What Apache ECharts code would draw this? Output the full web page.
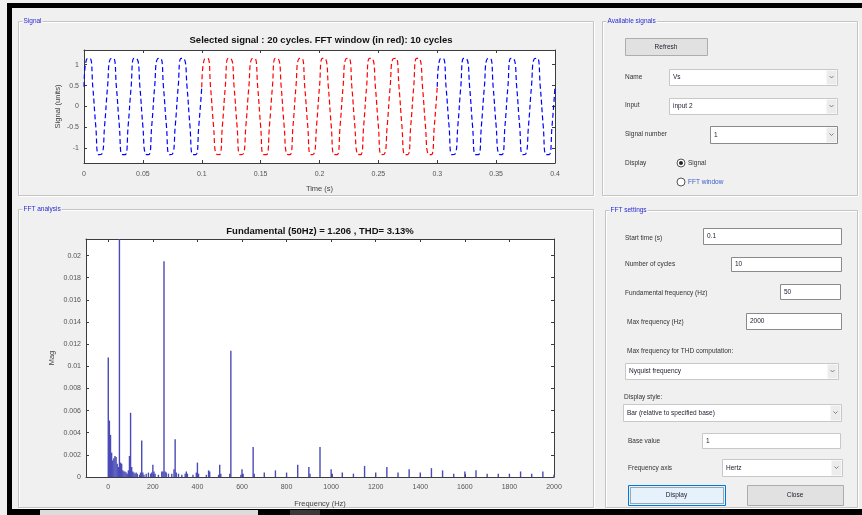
<!DOCTYPE html>
<html>
<head>
<meta charset="utf-8">
<script src="https://cdn.jsdelivr.net/npm/echarts@6/dist/echarts.min.js"></script>
<style>
html,body{margin:0;padding:0;background:#fff;}
#chart{width:862px;height:515px;}
</style>
</head>
<body>
<div id="chart"></div>
<script>
// ---------------- DATA ----------------
const signalTitle = 'Selected signal : 20 cycles. FFT window (in red): 10 cycles';
const fftTitle = 'Fundamental (50Hz) = 1.206 , THD= 3.13%';
const signalStep = 0.0025;              // s between samples
const fftWindowStart = 0.1;             // s
const fftWindowEnd = 0.3;               // s
const signalValues = [
  0.47, 1.14, 1.15, 0.46, -0.47, -1.15, -1.14, -0.46,
  0.47, 1.14, 1.15, 0.47, -0.46, -1.15, -1.15, -0.46,
  0.46, 1.15, 1.14, 0.46, -0.47, -1.14, -1.15, -0.47,
  0.47, 1.14, 1.15, 0.46, -0.46, -1.15, -1.14, -0.46,
  0.47, 1.15, 1.14, 0.47, -0.47, -1.15, -1.15, -0.46,
  0.46, 1.14, 1.15, 0.46, -0.46, -1.14, -1.15, -0.47,
  0.47, 1.15, 1.14, 0.46, -0.47, -1.15, -1.14, -0.46,
  0.47, 1.14, 1.15, 0.47, -0.46, -1.15, -1.15, -0.46,
  0.46, 1.15, 1.14, 0.46, -0.47, -1.14, -1.15, -0.47,
  0.47, 1.14, 1.15, 0.46, -0.46, -1.15, -1.14, -0.46,
  0.47, 1.15, 1.14, 0.47, -0.47, -1.15, -1.15, -0.46,
  0.46, 1.14, 1.15, 0.46, -0.46, -1.14, -1.15, -0.47,
  0.47, 1.15, 1.14, 0.46, -0.47, -1.15, -1.14, -0.46,
  0.47, 1.14, 1.15, 0.47, -0.46, -1.15, -1.15, -0.46,
  0.46, 1.15, 1.14, 0.46, -0.47, -1.14, -1.15, -0.47,
  0.47, 1.14, 1.15, 0.46, -0.46, -1.15, -1.14, -0.46,
  0.47, 1.15, 1.14, 0.47, -0.47, -1.15, -1.15, -0.46,
  0.46, 1.14, 1.15, 0.46, -0.46, -1.14, -1.15, -0.47,
  0.47, 1.15, 1.14, 0.46, -0.47, -1.15, -1.14, -0.46,
  0.47, 1.14, 1.15, 0.47, -0.46, -1.15, -1.15, -0.46,
  0.47
];
const signalXTicks = [0, 0.05, 0.1, 0.15, 0.2, 0.25, 0.3, 0.35, 0.4];
const signalYTicks = [-1, -0.5, 0, 0.5, 1];

const fftFreq = [
  0, 5, 10, 15, 20, 25, 30, 35, 40, 45, 50, 55, 60, 65, 70, 75, 80, 85, 90, 95,
  100, 105, 110, 115, 120, 125, 130, 140, 145, 150, 155, 160, 170, 180, 190, 195,
  200, 205, 210, 225, 240, 245, 250, 255, 260, 270, 285, 295, 300, 305, 315, 330,
  345, 350, 355, 380, 395, 400, 405, 440, 450, 455, 495, 500, 505, 545, 550, 595,
  600, 605, 650, 655, 700, 750, 800, 850, 900, 905, 950, 1000, 1005, 1050, 1100,
  1150, 1200, 1250, 1300, 1350, 1400, 1450, 1500, 1550, 1600, 1650, 1700, 1750,
  1800, 1850, 1900, 1950, 2000
];
const fftMag = [
  0.0108, 0.0051, 0.0038, 0.0022, 0.0015, 0.0017, 0.0019, 0.0018, 0.0012, 0.0009, 1.206, 0.0013, 0.0012, 0.0006, 0.0005, 0.0005, 0.0004, 0.0003, 0.0006, 0.0019,
  0.0058, 0.0009, 0.0005, 0.0004, 0.0003, 0.0004, 0.0003, 0.0002, 0.0004, 0.0033, 0.0004, 0.0002, 0.0003, 0.0004, 0.0003, 0.0004,
  0.0011, 0.0005, 0.0003, 0.0002, 0.0005, 0.0005, 0.0195, 0.0005, 0.0004, 0.0003, 0.0003, 0.0007, 0.0034, 0.0004, 0.0003, 0.0002,
  0.0003, 0.0005, 0.0003, 0.0002, 0.0004, 0.0013, 0.0003, 0.0002, 0.0006, 0.0005, 0.0002, 0.0011, 0.0003, 0.0003, 0.0114, 0.0002,
  0.0007, 0.0003, 0.0027, 0.0003, 0.0004, 0.0006, 0.0004, 0.0011, 0.0009, 0.0003, 0.0027, 0.0007, 0.0003, 0.0004, 0.0003,
  0.0010, 0.0004, 0.0009, 0.0004, 0.0007, 0.0004, 0.0008, 0.0006, 0.0003, 0.0005, 0.0006, 0.0003, 0.0003,
  0.0003, 0.0005, 0.0003, 0.0005, 0.0002
];
const fftXTicks = [0, 200, 400, 600, 800, 1000, 1200, 1400, 1600, 1800, 2000];
const fftYTicks = [0, 0.002, 0.004, 0.006, 0.008, 0.01, 0.012, 0.014, 0.016, 0.018, 0.02];

// ---------------- BUILD ----------------
const FONT = "'Liberation Sans', Arial, sans-serif";
const blue1 = [], red = [], blue2 = [];
signalValues.forEach((v, i) => {
  const t = +(i * signalStep).toFixed(4);
  if (t <= fftWindowStart) blue1.push([t, v]);
  if (t >= fftWindowStart && t <= fftWindowEnd) red.push([t, v]);
  if (t >= fftWindowEnd) blue2.push([t, v]);
});
const fftData = fftFreq.map((f, i) => [f, fftMag[i]]);

const G = [];
function rect(x, y, w, h, fill, stroke, lw, extra) {
  G.push(Object.assign({type: 'rect', shape: {x, y, width: w, height: h},
    style: {fill: fill || 'none', stroke: stroke || null, lineWidth: lw || 1}, silent: true}, extra || {}));
}
function txt(x, y, s, o) {
  o = o || {};
  G.push({type: 'text', x, y, silent: true, style: {
    text: s, fill: o.fill || '#333', fontSize: o.size || 6.5, fontFamily: FONT,
    fontWeight: o.weight || 'normal', align: o.align || 'left', verticalAlign: 'middle',
    backgroundColor: o.bg || null, padding: o.pad || 0}});
}
function panel(x, y, w, h, title) {
  rect(x + 1, y + 1, w, h, null, '#ffffff', 1);
  rect(x, y, w, h, null, '#c4c4c4', 1);
  txt(x + 4, y, title, {fill: '#2a2ad0', bg: '#f0f0f0', pad: [0, 1]});
}
function edit(x, y, w, h, s, dark) {
  rect(x + 0.5, y + 0.5, w, h, '#ffffff', dark ? '#8a8a8a' : '#c8c8c8', 1);
  txt(x + 4, y + h / 2 + 0.5, s, {fill: '#223'});
}
function drop(x, y, w, h, s, dark) {
  edit(x, y, w, h, s, dark);
  rect(x + w - 10.5, y + 1.5, 10, h - 2, '#ececec', null, 0);
  G.push({type: 'polyline', silent: true, shape: {points: [[x + w - 7.5, y + h / 2 - 1], [x + w - 5.5, y + h / 2 + 1], [x + w - 3.5, y + h / 2 - 1]]},
    style: {stroke: '#666', lineWidth: 0.8, fill: 'none'}});
}
function button(x, y, w, h, s, focus) {
  if (focus) {
    rect(x + 0.5, y + 0.5, w, h, '#e5f1fb', '#0078d7', 1);
    rect(x + 2.5, y + 2.5, w - 4, h - 4, null, '#333', 0.8, {style: {fill: 'none', stroke: '#333', lineWidth: 0.8, lineDash: [1, 1]}});
  } else {
    rect(x + 0.5, y + 0.5, w, h, '#e1e1e1', '#adadad', 1);
  }
  txt(x + w / 2, y + h / 2 + 0.5, s, {align: 'center', fill: '#223'});
}
function radio(x, y, checked, s) {
  G.push({type: 'circle', silent: true, shape: {cx: x, cy: y, r: 4}, style: {fill: '#fff', stroke: '#555', lineWidth: 1}});
  if (checked) G.push({type: 'circle', silent: true, shape: {cx: x, cy: y, r: 2}, style: {fill: '#222'}});
  txt(x + 7, y, s, {fill: checked ? '#333' : '#3a5cc8'});
}

// window frame
rect(7, 3, 855, 5, '#000');
rect(7, 3, 5, 512, '#000');
rect(7, 509, 855, 6, '#000');
rect(40, 510, 218, 5, '#dcdcdc');
rect(290, 510, 30, 5, '#3a3a3a');

// panels
panel(18.5, 21.5, 575, 174, 'Signal');
panel(602.5, 21.5, 255, 174, 'Available signals');
panel(18.5, 209.5, 575, 298, 'FFT analysis');
panel(605.5, 210.5, 252, 297, 'FFT settings');

// available signals widgets
button(625, 38, 82, 17, 'Refresh');
txt(625, 77, 'Name'); drop(669, 69, 168, 16, 'Vs');
txt(625, 105, 'Input'); drop(669, 98, 168, 16, 'input 2');
txt(625, 134, 'Signal number'); drop(710, 126, 127, 17, '1', true);
txt(625, 163, 'Display'); radio(681, 163, true, 'Signal'); radio(681, 182, false, 'FFT window');

// FFT settings widgets
txt(625, 238, 'Start time (s)'); edit(703, 228, 138, 16, '0.1', true);
txt(625, 264, 'Number of cycles'); edit(731, 257, 110, 14, '10', true);
txt(625, 293, 'Fundamental frequency (Hz)'); edit(780, 284, 60, 15, '50', true);
txt(627, 322, 'Max frequency (Hz)'); edit(746, 313, 95, 16, '2000', true);
txt(627, 351, 'Max frequency for THD computation:'); drop(625, 363, 213, 16, 'Nyquist frequency');
txt(624, 397, 'Display style:'); drop(623, 404, 218, 17, 'Bar (relative to specified base)');
txt(628, 441, 'Base value'); edit(702, 433, 138, 15, '1');
txt(628, 468, 'Frequency axis'); drop(722, 459, 120, 17, 'Hertz');
button(628, 485, 97, 20, 'Display', true);
button(747, 485, 96, 20, 'Close');

// plot titles
txt(321, 40.5, signalTitle, {size: 9.5, weight: 'bold', align: 'center', fill: '#111'});
txt(320, 231, fftTitle, {size: 9.5, weight: 'bold', align: 'center', fill: '#111'});

// ---------------- AXES ----------------
const axisCol = '#3c3c3c';
const lbl = {color: '#555', fontSize: 7, fontFamily: FONT, formatter: v => String(+v.toFixed(6))};
function xAx(grid, min, max, ticks, pos, name, nameGap, show, margin) {
  return {type: 'value', gridIndex: grid, position: pos, min, max, name: show ? name : '',
    nameLocation: 'middle', nameGap, nameMoveOverlap: false, nameTextStyle: {color: '#444', fontSize: 7.5, fontFamily: FONT},
    axisLine: {show: true, onZero: false, lineStyle: {color: axisCol, width: 1}},
    axisTick: {show: true, inside: true, length: 3, customValues: ticks, lineStyle: {color: axisCol}},
    axisLabel: {show: show, customValues: ticks, margin: margin || 6, ...lbl},
    splitLine: {show: false}};
}
function yAx(grid, min, max, ticks, pos, name, nameGap, show) {
  return {type: 'value', gridIndex: grid, position: pos, min, max, name: show ? name : '',
    nameLocation: 'middle', nameGap, nameMoveOverlap: false, nameRotate: 90, nameTextStyle: {color: '#444', fontSize: 7.5, fontFamily: FONT},
    axisLine: {show: true, onZero: false, lineStyle: {color: axisCol, width: 1}},
    axisTick: {show: true, inside: true, length: 3, customValues: ticks, lineStyle: {color: axisCol}},
    axisLabel: {show: show, margin: 5, customValues: ticks, ...lbl},
    splitLine: {show: false}};
}

const option = {
  backgroundColor: '#f0f0f0',
  animation: false,
  graphic: {elements: G},
  grid: [
    {left: 84, top: 50, width: 471, height: 113, show: true, backgroundColor: '#fff', borderWidth: 0},
    {left: 86, top: 239, width: 468, height: 238, show: true, backgroundColor: '#fff', borderWidth: 0}
  ],
  xAxis: [
    xAx(0, 0, 0.4, signalXTicks, 'bottom', 'Time (s)', 22, true, 8),
    xAx(0, 0, 0.4, signalXTicks, 'top', '', 0, false),
    xAx(1, -100, 2000, fftXTicks, 'bottom', 'Frequency (Hz)', 23, true, 7),
    xAx(1, -100, 2000, fftXTicks, 'top', '', 0, false)
  ],
  yAxis: [
    yAx(0, -1.35, 1.35, signalYTicks, 'left', 'Signal (units)', 22, true),
    yAx(0, -1.35, 1.35, signalYTicks, 'right', '', 0, false),
    yAx(1, 0, 0.0215, fftYTicks, 'left', 'Mag', 30, true),
    yAx(1, 0, 0.0215, fftYTicks, 'right', '', 0, false)
  ],
  series: [
    {type: 'line', xAxisIndex: 0, yAxisIndex: 0, data: blue1, showSymbol: false, smooth: true,
      lineStyle: {color: '#0000ff', width: 1.2, type: [5, 3]}, clip: true},
    {type: 'line', xAxisIndex: 0, yAxisIndex: 0, data: red, showSymbol: false, smooth: true,
      lineStyle: {color: '#ff0000', width: 1.2, type: [5, 3]}, clip: true},
    {type: 'line', xAxisIndex: 0, yAxisIndex: 0, data: blue2, showSymbol: false, smooth: true,
      lineStyle: {color: '#0000ff', width: 1.2, type: [5, 3]}, clip: true},
    {type: 'bar', xAxisIndex: 2, yAxisIndex: 2, data: fftData, barWidth: 1.4, clip: true,
      itemStyle: {color: '#4a4ab8'}}
  ]
};
const chart = echarts.init(document.getElementById('chart'), null, {renderer: 'canvas'});
chart.setOption(option);
</script>
</body>
</html>
